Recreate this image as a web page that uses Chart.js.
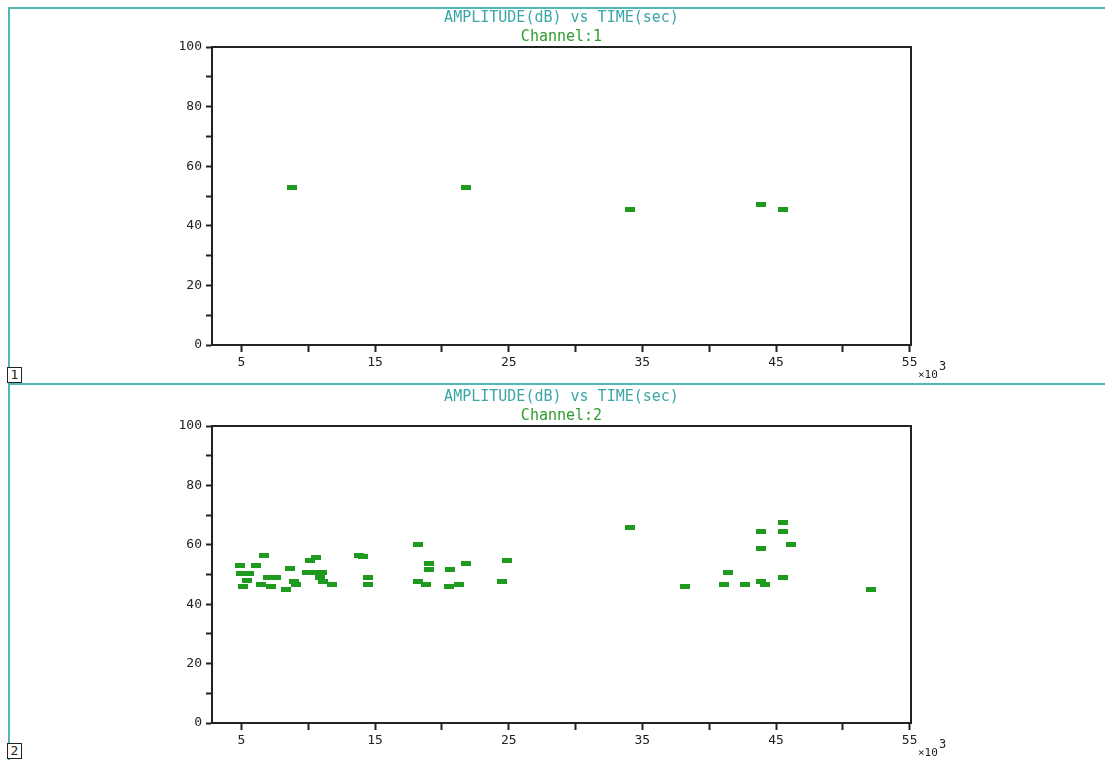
<!DOCTYPE html>
<html>
<head>
<meta charset="utf-8">
<script src="https://cdn.jsdelivr.net/npm/chart.js@4.4.1/dist/chart.umd.min.js"></script>
<style>
  body { margin: 0; background: #fff; width: 1105px; height: 760px; position: relative; overflow: hidden; }
  .frame { position: absolute; background: #55b6b6; }
  .panel { position: absolute; left: 9px; }
  .tag { position: absolute; left: 7px; width: 13px; height: 14px; border: 1px solid #222; background: #fff;
         font: 13px "DejaVu Sans Mono", monospace; line-height: 14px; text-align: center; color: #222; }
</style>
</head>
<body>
<div class="frame" style="left:8px; top:7px; width:1097px; height:2px;"></div>
<div class="frame" style="left:8px; top:7px; width:2px; height:753px;"></div>
<div class="frame" style="left:8px; top:383px; width:1097px; height:2px;"></div>

<div class="panel" style="top:9px;"><canvas id="chart1" width="1094" height="374"></canvas></div>
<div class="panel" style="top:385px;"><canvas id="chart2" width="1094" height="375"></canvas></div>

<div class="tag" style="top:367px;">1</div>
<div class="tag" style="top:743px;">2</div>

<script>
// temps en 10^3 sec, amplitude en dB
const ch1Time = [8.8, 21.8, 34.1, 43.9, 45.5];
const ch1Amp  = [52.7, 52.7, 45.6, 47.3, 45.6];

const ch2Time = [6.7, 4.9, 6.1, 5.0, 5.6, 5.4, 5.15, 6.5, 7.0, 7.6, 7.25, 8.6, 8.3, 8.9, 9.1,
                 10.1, 10.6, 9.9, 10.5, 11.0, 10.9, 11.1, 11.8, 13.8, 14.1, 14.5, 14.5,
                 18.2, 19.0, 19.0, 20.6, 21.8, 24.9, 18.2, 18.8, 20.5, 21.3, 24.5,
                 34.1, 38.2, 41.4, 41.1, 42.7, 43.9, 43.9, 43.9, 44.2, 45.5, 45.5, 46.1, 45.5, 52.1];
const ch2Amp  = [56.4, 53.0, 53.0, 50.3, 50.3, 48.0, 46.0, 46.6, 49.0, 49.0, 46.0, 52.0, 44.9, 47.6, 46.6,
                 54.7, 55.7, 50.7, 50.7, 50.7, 49.0, 47.6, 46.6, 56.4, 55.9, 49.0, 46.6,
                 60.1, 53.7, 51.7, 51.7, 53.7, 54.7, 47.6, 46.6, 46.0, 46.6, 47.6,
                 65.9, 46.0, 50.7, 46.6, 46.6, 64.5, 58.8, 47.6, 46.6, 67.6, 64.5, 60.1, 49.0, 44.9];

const xTickValues = [5, 10, 15, 20, 25, 30, 35, 40, 45, 50, 55];
const xTickLabels = [5, 15, 25, 35, 45, 55];
const yTickValues = [0, 10, 20, 30, 40, 50, 60, 70, 80, 90, 100];
const yTickLabels = [0, 20, 40, 60, 80, 100];

const FONT = '"DejaVu Sans Mono", monospace';

// petit rectangle vert pour chaque point
const mark = document.createElement('canvas');
mark.width = 10;
mark.height = 5;
const mctx = mark.getContext('2d');
mctx.fillStyle = '#1e9a1e';
mctx.fillRect(0, 0, 10, 5);

// cadre autour de la zone de tracé + étiquette x10^3
const framePlugin = {
    id: 'frameBox',
    afterDraw(chart) {
        const a = chart.chartArea;
        const ctx = chart.ctx;
        ctx.save();
        ctx.strokeStyle = '#222';
        ctx.lineWidth = 2;
        ctx.strokeRect(a.left, a.top, a.right - a.left, a.bottom - a.top);
        ctx.fillStyle = '#222';
        ctx.textBaseline = 'alphabetic';
        ctx.font = '11px ' + FONT;
        ctx.fillText('\u00d710', a.right + 7, a.bottom + 33);
        ctx.font = '12px ' + FONT;
        ctx.fillText('3', a.right + 28, a.bottom + 25);
        ctx.restore();
    }
};

function makeChart(id, times, amps, channel, padTop, padBottom) {
    const ctx = document.getElementById(id).getContext('2d');
    return new Chart(ctx, {
        type: 'scatter',
        data: {
            datasets: [{
                data: times.map((t, i) => ({ x: t, y: amps[i] })),
                pointStyle: mark,
                backgroundColor: '#1e9a1e'
            }]
        },
        options: {
            responsive: false,
            animation: false,
            layout: { padding: { left: 163, right: 192, top: padTop, bottom: padBottom } },
            plugins: {
                legend: { display: false },
                tooltip: { enabled: false },
                title: {
                    display: true,
                    fullSize: false,
                    text: 'AMPLITUDE(dB) vs TIME(sec)',
                    color: '#3aa6a6',
                    font: { family: FONT, size: 15, weight: 'normal', lineHeight: 1.1 },
                    padding: { top: 1, bottom: 2 }
                },
                subtitle: {
                    display: true,
                    fullSize: false,
                    text: channel,
                    color: '#2e9c2e',
                    font: { family: FONT, size: 15, weight: 'normal', lineHeight: 1.1 },
                    padding: { top: 0, bottom: 2 }
                }
            },
            scales: {
                x: {
                    type: 'linear',
                    min: 2.8,
                    max: 55.1,
                    afterFit: s => { s.height = 30; },
                    afterBuildTicks: s => { s.ticks = xTickValues.map(v => ({ value: v })); },
                    border: { display: true, color: '#222', width: 2 },
                    grid: { drawOnChartArea: false, drawTicks: true, tickLength: 7, tickColor: '#222', tickWidth: 2 },
                    ticks: {
                        color: '#222',
                        padding: 3,
                        maxRotation: 0,
                        autoSkip: false,
                        font: { family: FONT, size: 13 },
                        callback: v => xTickLabels.includes(v) ? String(v) : ''
                    }
                },
                y: {
                    min: 0,
                    max: 100,
                    afterFit: s => { s.width = 40; },
                    afterBuildTicks: s => { s.ticks = yTickValues.map(v => ({ value: v })); },
                    border: { display: true, color: '#222', width: 2 },
                    grid: { drawOnChartArea: false, drawTicks: true, tickLength: 6, tickColor: '#222', tickWidth: 2 },
                    ticks: {
                        color: '#222',
                        padding: 4,
                        autoSkip: false,
                        font: { family: FONT, size: 13 },
                        callback: v => yTickLabels.includes(v) ? String(v) : ''
                    }
                }
            }
        },
        plugins: [framePlugin]
    });
}

makeChart('chart1', ch1Time, ch1Amp, 'Channel:1', 0, 8);
makeChart('chart2', ch2Time, ch2Amp, 'Channel:2', 3, 7);
</script>
</body>
</html>
